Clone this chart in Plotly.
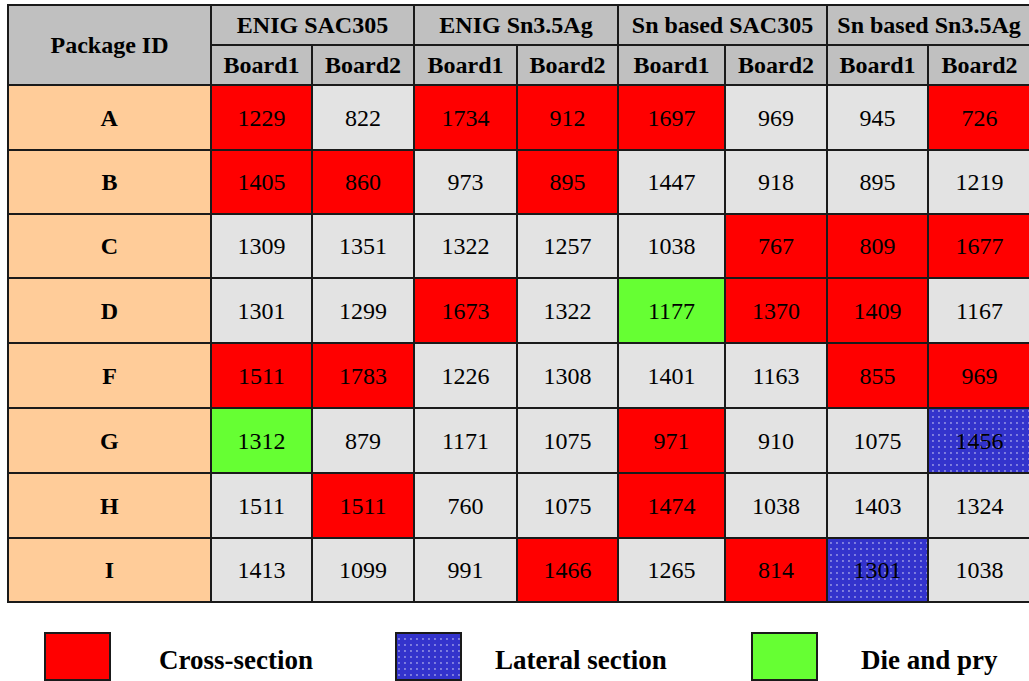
import plotly.graph_objects as go

# ---------------- data ----------------
packages = ["A", "B", "C", "D", "F", "G", "H", "I"]
groups = ["ENIG SAC305", "ENIG Sn3.5Ag", "Sn based SAC305", "Sn based Sn3.5Ag"]
boards = ["Board1", "Board2"]

values = [
    [1229, 822, 1734, 912, 1697, 969, 945, 726],
    [1405, 860, 973, 895, 1447, 918, 895, 1219],
    [1309, 1351, 1322, 1257, 1038, 767, 809, 1677],
    [1301, 1299, 1673, 1322, 1177, 1370, 1409, 1167],
    [1511, 1783, 1226, 1308, 1401, 1163, 855, 969],
    [1312, 879, 1171, 1075, 971, 910, 1075, 1456],
    [1511, 1511, 760, 1075, 1474, 1038, 1403, 1324],
    [1413, 1099, 991, 1466, 1265, 814, 1301, 1038],
]
# C = Cross-section, L = Lateral section, D = Die and pry, "" = none
methods = [
    ["C", "", "C", "C", "C", "", "", "C"],
    ["C", "C", "", "C", "", "", "", ""],
    ["", "", "", "", "", "C", "C", "C"],
    ["", "", "C", "", "D", "C", "C", ""],
    ["C", "C", "", "", "", "", "C", "C"],
    ["D", "", "", "", "C", "", "", "L"],
    ["", "C", "", "", "C", "", "", ""],
    ["", "", "", "C", "", "C", "L", ""],
]
legend_codes = ["C", "L", "D"]
legend_labels = ["Cross-section", "Lateral section", "Die and pry"]

# ---------------- styling / layout geometry ----------------
FONT = "Liberation Serif"
method_color = {"": "#e3e3e3", "C": "#ff0000", "L": "#3333cc", "D": "#66ff33"}
method_pattern = {"": "", "C": "", "L": ".", "D": ""}
HEADER = "#c0c0c0"
PKG = "#ffcc99"
LINE = "#1a1a1a"

col_edges = [8, 211, 312, 414, 517, 618, 725, 827, 928, 1031]
head_edges = [5, 45, 84.5]
row_edges = [84.5, 150, 214, 278, 343, 408, 472.5, 537.5, 602]

xs, ws, bases, hs, cols, pats, texts = [], [], [], [], [], [], []


def cell(x0, x1, y0, y1, color, text, pat=""):
    xs.append((x0 + x1) / 2)
    ws.append(x1 - x0)
    bases.append(y0)
    hs.append(y1 - y0)
    cols.append(color)
    pats.append(pat)
    texts.append(text)


# header
cell(col_edges[0], col_edges[1], head_edges[0], head_edges[2], HEADER, "<b>Package ID</b>")
for gi, g in enumerate(groups):
    cell(col_edges[1 + 2 * gi], col_edges[3 + 2 * gi], head_edges[0], head_edges[1], HEADER, f"<b>{g}</b>")
    for bi, b in enumerate(boards):
        c = 1 + 2 * gi + bi
        cell(col_edges[c], col_edges[c + 1], head_edges[1], head_edges[2], HEADER, f"<b>{b}</b>")

# body
for ri, p in enumerate(packages):
    y0, y1 = row_edges[ri], row_edges[ri + 1]
    cell(col_edges[0], col_edges[1], y0, y1, PKG, f"<b>{p}</b>")
    for ci, v in enumerate(values[ri]):
        m = methods[ri][ci]
        cell(col_edges[ci + 1], col_edges[ci + 2], y0, y1, method_color[m], str(v), method_pattern[m])

PATTERN = dict(fgcolor="white", size=6, solidity=0.08)

fig = go.Figure()
fig.add_trace(go.Bar(
    x=xs, y=hs, base=bases, width=ws,
    marker=dict(color=cols, line=dict(color=LINE, width=2),
                pattern=dict(shape=pats, **PATTERN)),
    text=texts, textposition="inside", insidetextanchor="middle",
    constraintext="none", textangle=0,
    textfont=dict(family=FONT, size=24, color="black"),
    hoverinfo="skip", showlegend=False,
))

# legend swatches
sw_x0 = [45, 396, 752]
sw_w = 65
lab_x = [236, 581, 929]
fig.add_trace(go.Bar(
    x=[x + sw_w / 2 for x in sw_x0], y=[47] * 3, base=[633] * 3, width=[sw_w] * 3,
    marker=dict(color=[method_color[c] for c in legend_codes], line=dict(color=LINE, width=2),
                pattern=dict(shape=[method_pattern[c] for c in legend_codes], **PATTERN)),
    hoverinfo="skip", showlegend=False,
))
for lx, lab in zip(lab_x, legend_labels):
    fig.add_annotation(x=lx, y=660, xref="x", yref="y", text=f"<b>{lab}</b>", showarrow=False,
                       font=dict(family=FONT, size=27, color="black"), xanchor="center", yanchor="middle")

fig.update_layout(
    width=1029, height=681, margin=dict(l=0, r=0, t=0, b=0),
    paper_bgcolor="white", plot_bgcolor="white", barmode="overlay", bargap=0,
    xaxis=dict(range=[0, 1029], visible=False, fixedrange=True),
    yaxis=dict(range=[681, 0], visible=False, fixedrange=True),
)

fig.write_html("out.html", config={"displayModeBar": False},
               post_script="document.body.style.margin='0';")
